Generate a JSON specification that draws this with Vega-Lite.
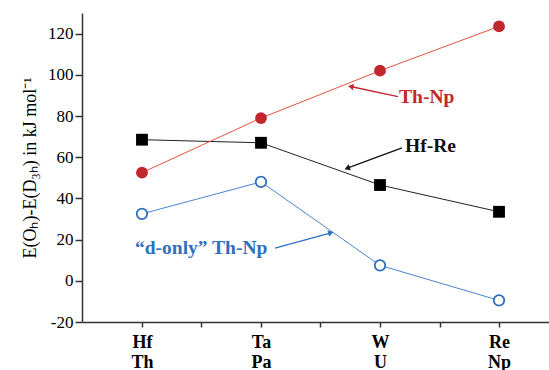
{
  "$schema": "https://vega.github.io/schema/vega-lite/v6.json",
  "width": 467,
  "height": 309,
  "autosize": {"type": "none"},
  "padding": {"left": 82, "top": 13, "right": 0, "bottom": 48},
  "background": "white",
  "config": {
    "view": {"stroke": null},
    "font": "Liberation Serif",
    "axis": {"labelFont": "Liberation Serif", "titleFont": "Liberation Serif"}
  },
  "datasets": {
    "series": [
      {"pos": 0, "series": "Hf-Re", "E": 68.5},
      {"pos": 1, "series": "Hf-Re", "E": 67},
      {"pos": 2, "series": "Hf-Re", "E": 46.5},
      {"pos": 3, "series": "Hf-Re", "E": 33.5},
      {"pos": 0, "series": "Th-Np", "E": 52.5},
      {"pos": 1, "series": "Th-Np", "E": 79},
      {"pos": 2, "series": "Th-Np", "E": 102},
      {"pos": 3, "series": "Th-Np", "E": 123.5},
      {"pos": 0, "series": "d-only", "E": 32.5},
      {"pos": 1, "series": "d-only", "E": 48},
      {"pos": 2, "series": "d-only", "E": 7.5},
      {"pos": 3, "series": "d-only", "E": -9.5}
    ],
    "labels": [
      {"series": "Th-Np", "text": "Th-Np", "x": 2.16, "y": 89.2},
      {"series": "Hf-Re", "text": "Hf-Re", "x": 2.21, "y": 65.4},
      {"series": "d-only", "text": "“d-only” Th-Np", "x": -0.059, "y": 15.9}
    ],
    "arrows": [
      {"series": "Th-Np", "x": 2.151, "y": 89.4, "x2": 1.762, "y2": 94.2},
      {"series": "Hf-Re", "x": 2.185, "y": 64.5, "x2": 1.731, "y2": 54.8},
      {"series": "d-only", "x": 1.118, "y": 15.9, "x2": 1.58, "y2": 23.2}
    ]
  },
  "layer": [
    {
      "data": {"name": "series"},
      "transform": [{"filter": "datum.series === 'Hf-Re'"}],
      "mark": {"type": "line", "color": "#222222", "strokeWidth": 1},
      "encoding": {
        "x": {
          "field": "pos", "type": "quantitative",
          "scale": {"domain": [-0.504, 3.42], "nice": false, "zero": false},
          "axis": {
            "values": [0, 0.5, 1, 1.5, 2, 2.5, 3],
            "labelExpr": "datum.value === 0 ? ['Hf','Th'] : datum.value === 1 ? ['Ta','Pa'] : datum.value === 2 ? ['W','U'] : datum.value === 3 ? ['Re','Np'] : ''",
            "title": null, "grid": false,
            "domainColor": "#333333", "domainWidth": 1.5,
            "tickColor": "#333333", "tickWidth": 1.5, "tickSize": 5,
            "labelFont": "Liberation Serif", "labelFontWeight": "bold", "labelFontSize": 18,
            "labelColor": "#000000", "labelPadding": 6, "labelLineHeight": 20
          }
        },
        "y": {
          "field": "E", "type": "quantitative",
          "scale": {"domain": [-20, 130], "nice": false, "zero": false},
          "axis": {
            "values": [-20, -10, 0, 10, 20, 30, 40, 50, 60, 70, 80, 90, 100, 110, 120, 130],
            "labelExpr": "(datum.value % 20 === 0 && datum.value <= 120) ? ('' + datum.value) : ''",
            "title": "E(Oₕ)-E(D₃ₕ) in kJ mol⁻¹",
            "titleFont": "Liberation Serif", "titleFontWeight": "normal", "titleFontSize": 18,
            "titleColor": "#000000", "titlePadding": 8,
            "grid": false,
            "domainColor": "#333333", "domainWidth": 1.5,
            "tickColor": "#333333", "tickWidth": 1.5,
            "tickSize": {"condition": {"test": "datum.value % 20 === 0", "value": 7}, "value": 4},
            "labelFont": "Liberation Serif", "labelFontSize": 17, "labelColor": "#000000", "labelPadding": 2
          }
        }
      }
    },
    {
      "data": {"name": "series"},
      "transform": [{"filter": "datum.series === 'Th-Np'"}],
      "mark": {"type": "line", "color": "#e2533f", "strokeWidth": 1},
      "encoding": {"x": {"field": "pos", "type": "quantitative"}, "y": {"field": "E", "type": "quantitative"}}
    },
    {
      "data": {"name": "series"},
      "transform": [{"filter": "datum.series === 'd-only'"}],
      "mark": {"type": "line", "color": "#4a84cf", "strokeWidth": 1},
      "encoding": {"x": {"field": "pos", "type": "quantitative"}, "y": {"field": "E", "type": "quantitative"}}
    },
    {
      "data": {"name": "series"},
      "transform": [{"filter": "datum.series === 'Hf-Re'"}],
      "mark": {"type": "point", "shape": "square", "filled": true, "color": "#000000", "size": 140, "opacity": 1},
      "encoding": {"x": {"field": "pos", "type": "quantitative"}, "y": {"field": "E", "type": "quantitative"}}
    },
    {
      "data": {"name": "series"},
      "transform": [{"filter": "datum.series === 'Th-Np'"}],
      "mark": {"type": "point", "shape": "circle", "filled": true, "color": "#c1272d", "size": 140, "opacity": 1},
      "encoding": {"x": {"field": "pos", "type": "quantitative"}, "y": {"field": "E", "type": "quantitative"}}
    },
    {
      "data": {"name": "series"},
      "transform": [{"filter": "datum.series === 'd-only'"}],
      "mark": {"type": "point", "shape": "circle", "filled": false, "fill": "#ffffff", "fillOpacity": 1, "stroke": "#2d6ebd", "strokeWidth": 1.8, "size": 110, "opacity": 1},
      "encoding": {"x": {"field": "pos", "type": "quantitative"}, "y": {"field": "E", "type": "quantitative"}}
    },
    {
      "data": {"name": "arrows"},
      "mark": {"type": "rule", "strokeWidth": 1.3},
      "encoding": {
        "x": {"field": "x", "type": "quantitative"},
        "y": {"field": "y", "type": "quantitative"},
        "x2": {"field": "x2"},
        "y2": {"field": "y2"},
        "color": {"field": "series", "type": "nominal", "scale": {"domain": ["Hf-Re", "Th-Np", "d-only"], "range": ["#111111", "#c1272d", "#2f6fbe"]}, "legend": null}
      }
    },
    {
      "data": {"name": "arrows"},
      "transform": [{"filter": "datum.series === 'Th-Np'"}],
      "mark": {"type": "point", "shape": "triangle", "filled": true, "size": 40, "angle": 282, "color": "#c1272d", "opacity": 1},
      "encoding": {"x": {"field": "x2", "type": "quantitative"}, "y": {"field": "y2", "type": "quantitative"}}
    },
    {
      "data": {"name": "arrows"},
      "transform": [{"filter": "datum.series === 'Hf-Re'"}],
      "mark": {"type": "point", "shape": "triangle", "filled": true, "size": 40, "angle": 250, "color": "#111111", "opacity": 1},
      "encoding": {"x": {"field": "x2", "type": "quantitative"}, "y": {"field": "y2", "type": "quantitative"}}
    },
    {
      "data": {"name": "arrows"},
      "transform": [{"filter": "datum.series === 'd-only'"}],
      "mark": {"type": "point", "shape": "triangle", "filled": true, "size": 40, "angle": 75, "color": "#2f6fbe", "opacity": 1},
      "encoding": {"x": {"field": "x2", "type": "quantitative"}, "y": {"field": "y2", "type": "quantitative"}}
    },
    {
      "data": {"name": "labels"},
      "mark": {"type": "text", "align": "left", "baseline": "middle", "font": "Liberation Serif", "fontWeight": "bold", "fontSize": 19.5},
      "encoding": {
        "x": {"field": "x", "type": "quantitative"},
        "y": {"field": "y", "type": "quantitative"},
        "text": {"field": "text"},
        "color": {"field": "series", "type": "nominal", "scale": {"domain": ["Hf-Re", "Th-Np", "d-only"], "range": ["#111111", "#c1272d", "#2f6fbe"]}, "legend": null}
      }
    }
  ]
}
